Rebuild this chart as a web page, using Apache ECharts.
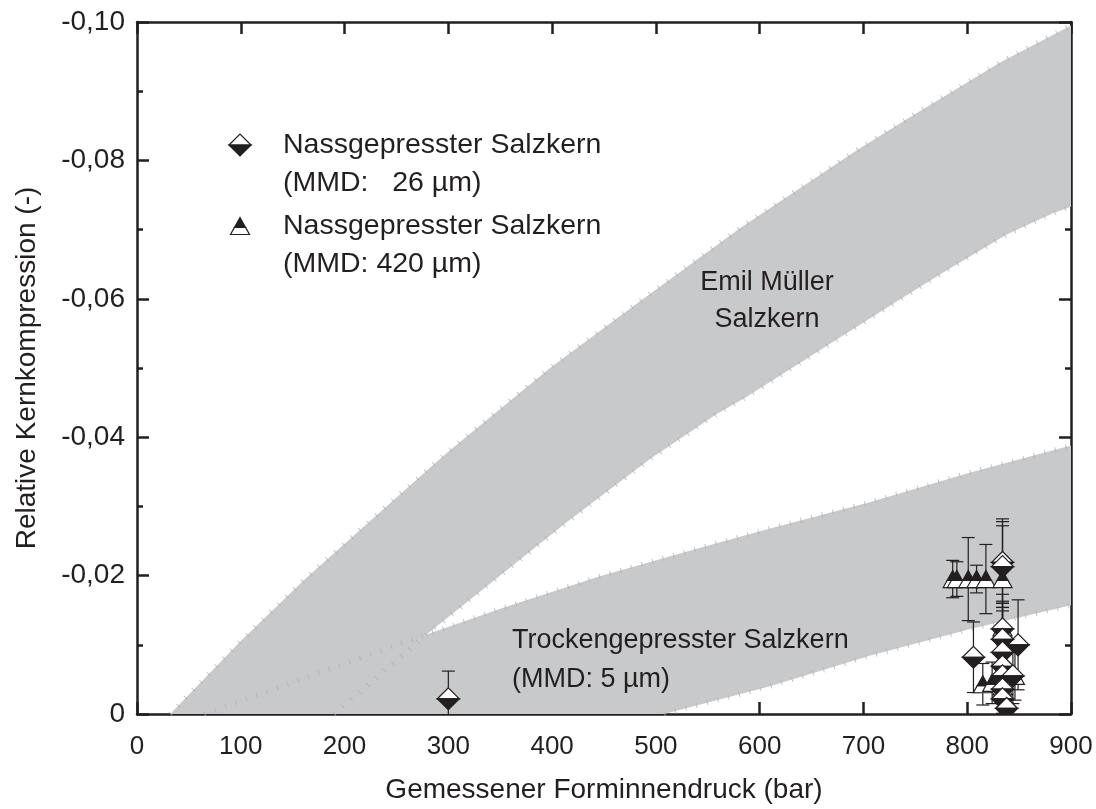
<!DOCTYPE html>
<html>
<head>
<meta charset="utf-8">
<script src="https://cdn.jsdelivr.net/npm/echarts@6/dist/echarts.min.js"></script>
<style>
  html, body { margin: 0; padding: 0; background: #ffffff; }
  #chart { width: 1096px; height: 809px; }
</style>
</head>
<body>
<div id="chart"></div>
<script>
// Emil Müller salt core: envelope of relative core compression vs. mould pressure
const emilUpperX = [32, 99, 162, 253, 299, 398, 485, 581, 694, 742, 832, 900];
const emilUpperY = [0, -0.0104, -0.0195, -0.0317, -0.0378, -0.0500, -0.0597, -0.0702, -0.0815, -0.0860, -0.0942, -0.0995];
const emilLowerX = [190, 279, 414, 494, 559, 586, 735, 780, 838, 883, 900];
const emilLowerY = [0, -0.0115, -0.0277, -0.0368, -0.0434, -0.0457, -0.0599, -0.0641, -0.0693, -0.0724, -0.0733];

// Dry-pressed salt core (MMD 5 µm) envelope
const dryUpperX = [65, 279, 350, 446, 542, 610, 706, 803, 900];
const dryUpperY = [0, -0.0115, -0.0152, -0.0199, -0.0240, -0.0268, -0.0306, -0.0349, -0.0388];
const dryLowerX = [508, 610, 706, 803, 900];
const dryLowerY = [0, -0.0040, -0.0084, -0.0123, -0.0157];

// Wet-pressed salt core, MMD 26 µm: pressure (bar), compression (-), error (-)
const wet26Pressure = [300, 806, 849, 834, 834, 834, 834, 834, 834, 834, 834, 834, 844, 838];
const wet26Compression = [-0.0022, -0.0082, -0.0100, -0.0219, -0.0213, -0.0123, -0.0108, -0.0089, -0.0069, -0.0055, -0.0036, -0.0022, -0.0055, -0.0008];
const wet26Error = [0.0040, 0.0051, 0.0065, 0.0059, 0.0059, 0.0050, 0.0055, 0.0065, 0.0080, 0.0045, 0.0035, 0.0030, 0.0040, 0.0020];

// Wet-pressed salt core, MMD 420 µm
const wet420Pressure = [786, 790, 801, 809, 818, 834, 815, 824, 846, 834, 834];
const wet420Compression = [-0.0195, -0.0195, -0.0195, -0.0195, -0.0195, -0.0195, -0.0043, -0.0045, -0.0055, -0.0125, -0.0040];
const wet420Error = [0.0027, 0.0025, 0.0060, 0.0020, 0.0050, 0.0087, 0.0030, 0.0030, 0.0035, 0.0035, 0.0025];

// Axis ticks
const xTickValues = [0, 100, 200, 300, 400, 500, 600, 700, 800, 900];
const yTickValues = [0, -0.02, -0.04, -0.06, -0.08, -0.10];

const INK = '#231f20';
const BAND = '#c8c9cb';
const HATCH = '#aeafb1';
const FONT = '"Liberation Sans", Arial, Helvetica, sans-serif';

function pairs(xs, ys) { return xs.map((x, i) => [x, ys[i]]); }

function bandSeries(upX, upY, loX, loY) {
  const pts = pairs(upX, upY).concat(pairs(loX, loY).reverse());
  return {
    type: 'custom', coordinateSystem: 'cartesian2d', clip: true, silent: true, z: 1,
    data: pts,
    renderItem: function (params, api) {
      if (params.dataIndex !== 0) return null;
      return {
        type: 'polygon',
        shape: { points: pts.map(p => api.coord(p)) },
        style: { fill: BAND, stroke: null }
      };
    }
  };
}

function hatchSeries(xs, ys) {
  return {
    type: 'line', data: pairs(xs, ys), symbol: 'none', silent: true, z: 2,
    lineStyle: { color: HATCH, width: 5, type: [1, 10], opacity: 0.75 }
  };
}

function errorSeries(xs, ys, es) {
  return {
    type: 'custom', coordinateSystem: 'cartesian2d', clip: true, silent: true, z: 3,
    data: xs.map((x, i) => [x, ys[i], es[i]]),
    renderItem: function (params, api) {
      const x = api.value(0), y = api.value(1), e = api.value(2);
      const a = api.coord([x, y - e]);
      const b = api.coord([x, y + e]);
      const hw = 6.5;
      const st = { stroke: INK, lineWidth: 1.2 };
      return {
        type: 'group',
        children: [
          { type: 'line', shape: { x1: a[0], y1: a[1], x2: b[0], y2: b[1] }, style: st },
          { type: 'line', shape: { x1: a[0] - hw, y1: a[1], x2: a[0] + hw, y2: a[1] }, style: st },
          { type: 'line', shape: { x1: b[0] - hw, y1: b[1], x2: b[0] + hw, y2: b[1] }, style: st }
        ]
      };
    }
  };
}

// Half-filled diamond: white upper half, black lower half
function diamondShape(cx, cy) {
  const w = 11, h = 11;
  return [
    { type: 'polygon', shape: { points: [[cx - w, cy], [cx, cy - h], [cx + w, cy]] }, style: { fill: '#ffffff', stroke: INK, lineWidth: 1.2 } },
    { type: 'polygon', shape: { points: [[cx - w, cy], [cx + w, cy], [cx, cy + h]] }, style: { fill: INK, stroke: INK, lineWidth: 1.2 } }
  ];
}

// Half-filled triangle: black upper part, white lower strip
function triangleShape(cx, cy) {
  const w = 9.5, h = 17, f = 0.58;
  const top = cy - h / 2, base = cy + h / 2, ys = top + h * f, ws = w * f;
  return [
    { type: 'polygon', shape: { points: [[cx - ws, ys], [cx - w, base], [cx + w, base], [cx + ws, ys]] }, style: { fill: '#ffffff', stroke: INK, lineWidth: 1.2 } },
    { type: 'polygon', shape: { points: [[cx, top], [cx - ws, ys], [cx + ws, ys]] }, style: { fill: INK, stroke: INK, lineWidth: 1.2 } }
  ];
}

function markerSeries(xs, ys, shapeFn) {
  return {
    type: 'custom', coordinateSystem: 'cartesian2d', clip: true, silent: true, z: 4,
    data: xs.map((x, i) => [x, ys[i]]),
    renderItem: function (params, api) {
      const c = api.coord([api.value(0), api.value(1)]);
      return { type: 'group', children: shapeFn(c[0], c[1]) };
    }
  };
}

function txt(text, x, y, align, size) {
  return {
    type: 'text', x: x, y: y, z: 10, silent: true,
    style: { text: text, fill: INK, font: (size || 27) + 'px ' + FONT, textAlign: align || 'left', textVerticalAlign: 'middle' }
  };
}

function legendGroup() {
  const d = diamondShape(240, 145);
  const t = triangleShape(240, 226);
  return d.concat(t).map(el => Object.assign({ z: 10, silent: true }, el));
}

const axisLineStyle = { color: INK, width: 2.5 };
const tickStyle = { color: INK, width: 2.5 };

const option = {
  animation: false,
  backgroundColor: '#ffffff',
  grid: { left: 137, right: 25, top: 22, bottom: 94, containLabel: false },
  xAxis: [
    {
      type: 'value', min: 0, max: 900, interval: 100, position: 'bottom',
      axisLine: { onZero: false, lineStyle: axisLineStyle },
      axisTick: { inside: true, length: 12, lineStyle: tickStyle },
      axisLabel: {
        color: INK, fontSize: 26, fontFamily: FONT, margin: 20,
        formatter: v => xTickValues.indexOf(v) >= 0 ? String(v) : ''
      },
      splitLine: { show: false },
      name: 'Gemessener Forminnendruck (bar)', nameLocation: 'middle', nameGap: 62,
      nameTextStyle: { color: INK, fontSize: 28, fontFamily: FONT }
    },
    {
      type: 'value', min: 0, max: 900, interval: 100, position: 'top',
      axisLine: { onZero: false, lineStyle: axisLineStyle },
      axisTick: { inside: true, length: 12, lineStyle: tickStyle },
      axisLabel: { show: false }, splitLine: { show: false }
    }
  ],
  yAxis: [
    {
      type: 'value', min: -0.1, max: 0, interval: 0.02, inverse: true, position: 'left',
      axisLine: { onZero: false, lineStyle: axisLineStyle },
      axisTick: { inside: true, length: 12, lineStyle: tickStyle },
      minorTick: { show: true, splitNumber: 2, length: 6, lineStyle: { color: INK, width: 2.5 } },
      axisLabel: {
        color: INK, fontSize: 28, fontFamily: FONT, margin: 12,
        formatter: function (v) {
          const t = yTickValues.find(k => Math.abs(k - v) < 1e-9);
          if (t === undefined) return '';
          return t === 0 ? '0' : t.toFixed(2).replace('.', ',');
        }
      },
      splitLine: { show: false },
      name: 'Relative Kernkompression (-)', nameLocation: 'middle', nameGap: 96, nameRotate: 90,
      nameTextStyle: { color: INK, fontSize: 28, fontFamily: FONT }
    },
    {
      type: 'value', min: -0.1, max: 0, interval: 0.02, inverse: true, position: 'right',
      axisLine: { onZero: false, lineStyle: axisLineStyle },
      axisTick: { inside: true, length: 12, lineStyle: tickStyle },
      minorTick: { show: true, splitNumber: 2, length: 6, lineStyle: { color: INK, width: 2.5 } },
      axisLabel: { show: false }, splitLine: { show: false }
    }
  ],
  series: [
    bandSeries(emilUpperX, emilUpperY, emilLowerX, emilLowerY),
    bandSeries(dryUpperX, dryUpperY, dryLowerX, dryLowerY),
    hatchSeries(emilUpperX, emilUpperY),
    hatchSeries(emilLowerX, emilLowerY),
    hatchSeries(dryUpperX, dryUpperY),
    hatchSeries(dryLowerX, dryLowerY),
    errorSeries(wet420Pressure, wet420Compression, wet420Error),
    errorSeries(wet26Pressure, wet26Compression, wet26Error),
    markerSeries(wet420Pressure, wet420Compression, triangleShape),
    markerSeries(wet26Pressure, wet26Compression, diamondShape)
  ],
  graphic: [
    txt('Emil Müller', 767, 283, 'center'),
    txt('Salzkern', 767, 320, 'center'),
    txt('Trockengepresster Salzkern', 512, 641, 'left'),
    txt('(MMD: 5 µm)', 512, 680, 'left'),
    txt('Nassgepresster Salzkern', 283, 145, 'left', 28.5),
    txt('(MMD:   26 µm)', 283, 183, 'left', 28.5),
    txt('Nassgepresster Salzkern', 283, 226, 'left', 28.5),
    txt('(MMD: 420 µm)', 283, 264, 'left', 28.5)
  ].concat(legendGroup())
};

const chart = echarts.init(document.getElementById('chart'), null, { renderer: 'canvas' });
chart.setOption(option);
</script>
</body>
</html>
